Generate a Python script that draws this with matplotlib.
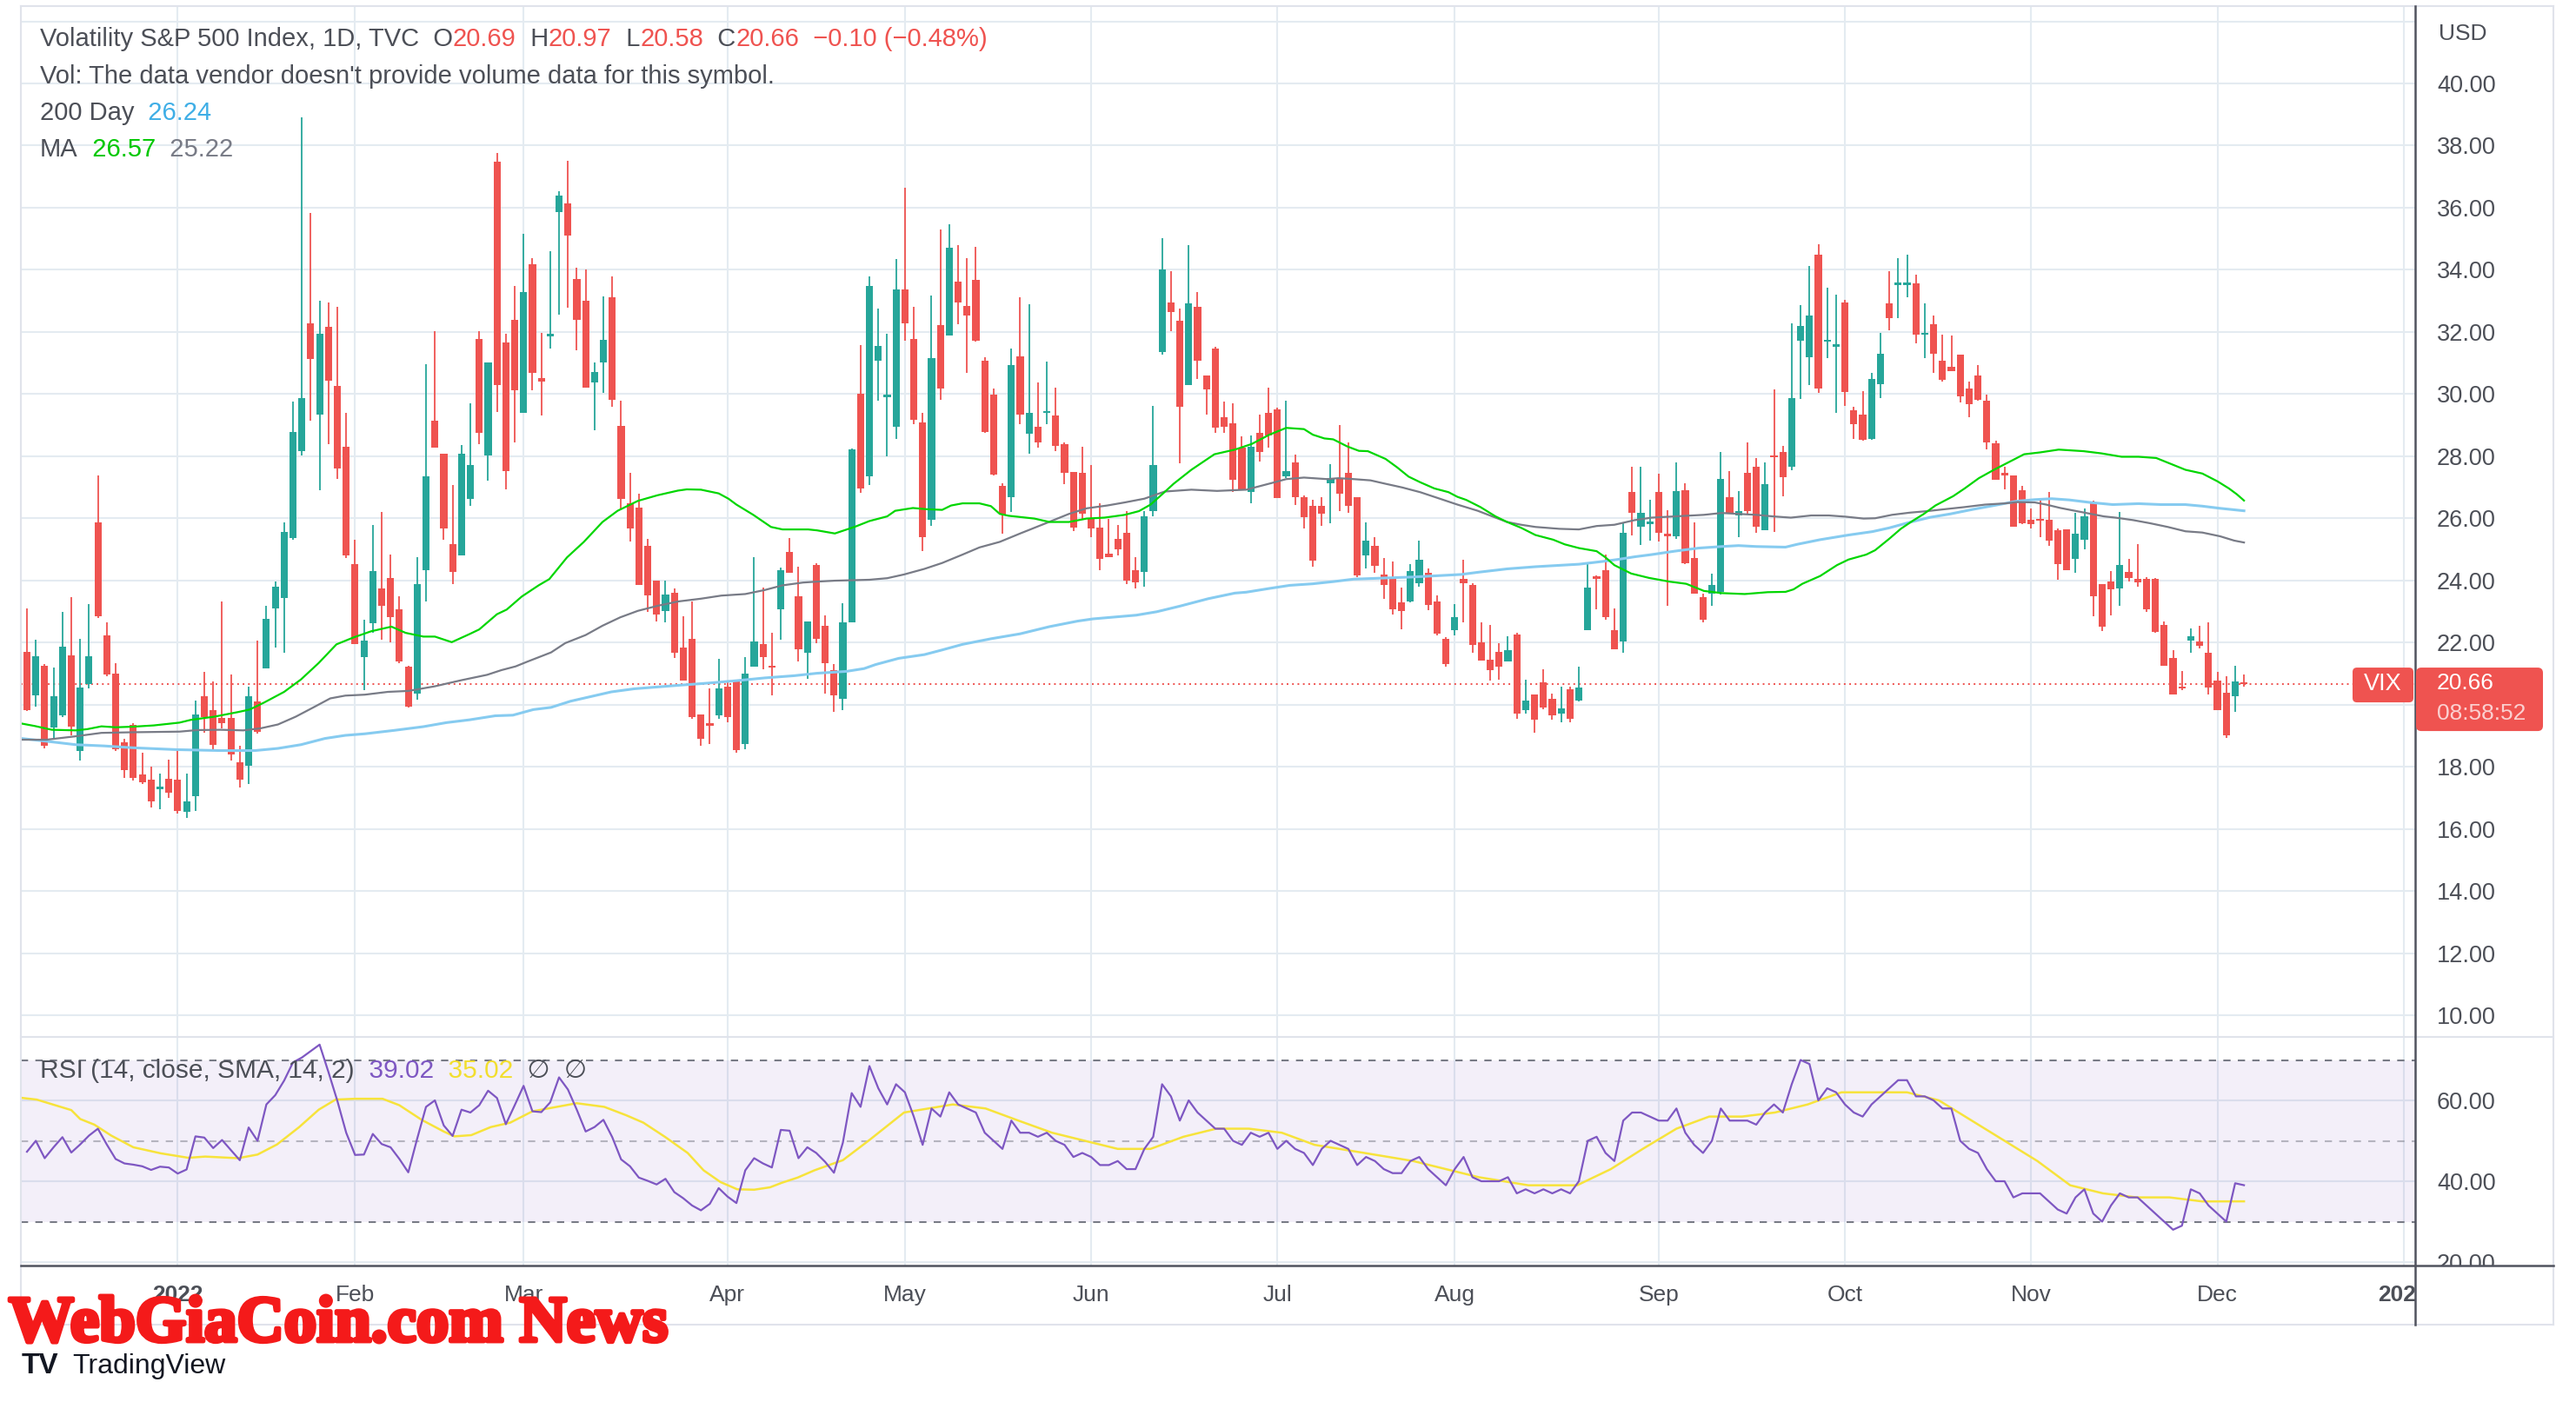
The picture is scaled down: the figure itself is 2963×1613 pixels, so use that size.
import numpy as np
import matplotlib.pyplot as plt
import matplotlib.patheffects as pe
from matplotlib.patches import Rectangle, FancyBboxPatch
from matplotlib.lines import Line2D
from matplotlib.transforms import IdentityTransform

plt.rcParams['font.family'] = ['Liberation Sans', 'DejaVu Sans']

W, H = 2963, 1613

# daily candles, 8 Dec 2021 .. 6 Dec 2022
opens = [21.71, 20.29, 21.26, 19.25, 19.66, 21.59, 18.52, 20.66, 25.87, 22.24,
         21.00, 18.79, 19.35, 17.74, 17.59, 17.28, 17.62, 17.59, 16.54, 17.04,
         20.26, 19.81, 19.57, 19.58, 18.15, 18.04, 20.11, 21.16, 23.09, 23.44,
         25.36, 28.16, 32.28, 29.33, 32.16, 30.26, 28.31, 24.53, 21.52, 22.61,
         23.74, 24.07, 23.06, 21.23, 20.36, 24.34, 29.13, 28.09, 25.16, 24.79,
         26.63, 31.76, 28.01, 37.49, 31.65, 32.40, 29.40, 34.19, 30.50, 31.85,
         35.85, 36.15, 33.71, 32.99, 30.38, 31.01, 33.11, 28.98, 26.47, 26.33,
         25.12, 23.99, 23.02, 23.59, 21.83, 22.12, 19.69, 19.39, 19.66, 20.59,
         20.74, 18.74, 21.23, 21.94, 21.24, 23.06, 24.91, 23.48, 21.68, 24.49,
         22.54, 21.11, 20.18, 22.64, 30.00, 27.34, 31.08, 29.90, 28.94, 33.36,
         31.76, 29.09, 25.94, 32.21, 31.88, 33.63, 32.84, 33.68, 31.08, 29.99,
         27.04, 26.69, 31.20, 28.73, 28.94, 29.38, 29.31, 28.38, 27.49, 27.46,
         26.02, 25.69, 24.86, 25.34, 25.54, 24.34, 24.26, 26.24, 31.34, 32.96,
         32.36, 30.30, 32.81, 30.60, 31.46, 29.26, 29.06, 28.26, 26.86, 28.76,
         29.39, 29.51, 27.34, 27.81, 26.69, 26.41, 26.41, 27.14, 27.29, 27.46,
         26.69, 24.79, 25.12, 24.19, 24.04, 23.29, 23.32, 23.92, 24.23, 23.32,
         22.12, 22.39, 24.04, 23.86, 22.01, 21.44, 21.71, 21.38, 22.27, 19.81,
         20.32, 20.71, 20.18, 19.72, 20.48, 20.14, 22.39, 24.11, 24.34, 22.39,
         22.04, 26.84, 25.73, 25.82, 26.84, 25.45, 25.43, 26.91, 24.71, 23.47,
         23.56, 23.63, 26.69, 26.09, 27.46, 27.67, 25.61, 28.03, 28.13, 27.67,
         31.71, 31.19, 34.49, 31.68, 31.53, 32.96, 29.48, 29.33, 28.56, 30.33,
         32.91, 33.52, 33.51, 33.56, 31.91, 32.24, 31.06, 30.89, 31.26, 30.18,
         30.60, 29.78, 28.41, 27.46, 27.38, 26.89, 25.94, 25.96, 25.96, 25.61,
         25.64, 24.68, 25.31, 26.51, 23.89, 23.96, 23.74, 24.26, 24.04, 24.04,
         24.04, 22.57, 21.49, 20.59, 22.06, 22.04, 21.67, 20.78, 20.39, 20.26,
         20.69]
highs = [23.10, 22.09, 21.30, 21.19, 22.99, 23.47, 22.12, 23.24, 27.38, 22.64,
         21.34, 18.90, 19.40, 18.44, 17.99, 17.79, 18.24, 18.53, 17.79, 20.14,
         21.04, 20.74, 23.32, 20.96, 18.67, 20.59, 22.06, 23.18, 23.96, 25.87,
         29.76, 38.91, 35.84, 32.99, 32.96, 32.81, 29.39, 25.31, 22.72, 25.79,
         26.21, 24.82, 23.48, 21.26, 24.76, 30.96, 32.03, 28.09, 27.07, 28.36,
         29.70, 32.03, 31.01, 37.76, 31.95, 33.48, 35.16, 34.38, 31.98, 34.60,
         36.53, 37.50, 34.08, 34.01, 31.01, 33.14, 33.78, 29.78, 27.46, 26.78,
         25.34, 23.99, 24.00, 23.74, 22.84, 23.32, 19.69, 20.51, 21.46, 20.78,
         20.74, 21.53, 24.74, 23.78, 22.31, 24.41, 25.36, 24.44, 22.69, 24.56,
         22.88, 21.31, 23.26, 28.24, 31.58, 33.78, 32.76, 31.95, 34.34, 36.63,
         32.81, 29.39, 33.18, 35.31, 35.46, 34.80, 34.38, 34.73, 31.19, 30.18,
         27.14, 31.46, 33.11, 32.88, 30.38, 31.04, 30.21, 28.43, 27.49, 28.31,
         27.71, 26.47, 25.99, 25.79, 26.24, 24.74, 26.24, 29.61, 35.01, 33.96,
         32.76, 34.80, 33.29, 30.60, 31.53, 29.76, 29.69, 28.64, 28.66, 29.33,
         30.21, 29.55, 29.78, 28.06, 26.74, 26.59, 26.69, 27.74, 29.01, 28.43,
         26.69, 25.88, 25.39, 24.71, 24.61, 23.78, 24.53, 25.28, 24.38, 23.51,
         22.16, 23.24, 24.67, 23.92, 22.66, 22.57, 21.97, 22.21, 22.31, 20.81,
         20.32, 21.14, 20.36, 20.59, 20.59, 21.23, 24.59, 24.16, 24.82, 23.09,
         25.84, 27.66, 27.66, 26.59, 27.44, 26.26, 27.79, 27.14, 25.87, 23.56,
         24.22, 28.13, 27.53, 26.88, 28.43, 27.94, 27.79, 30.14, 28.34, 32.28,
         32.85, 34.11, 34.83, 33.41, 33.21, 33.03, 29.58, 30.08, 30.68, 31.98,
         33.96, 34.38, 34.50, 33.83, 32.93, 32.54, 31.91, 31.88, 31.28, 30.41,
         30.93, 29.99, 28.51, 27.66, 27.38, 27.04, 26.31, 26.59, 26.86, 25.66,
         25.64, 26.17, 26.31, 26.56, 23.89, 24.31, 26.21, 24.68, 25.16, 24.11,
         24.07, 22.69, 21.76, 21.08, 22.46, 22.54, 22.64, 21.04, 20.92, 21.26,
         20.97]
lows = [19.80, 19.94, 18.60, 18.94, 19.60, 19.00, 18.19, 20.51, 22.80, 20.90,
        18.50, 17.64, 17.55, 17.45, 16.69, 16.62, 16.99, 16.50, 16.35, 16.57,
        19.09, 18.57, 19.24, 18.19, 17.34, 17.44, 19.06, 21.16, 21.83, 21.68,
        25.31, 28.01, 29.13, 26.89, 28.39, 27.26, 24.71, 21.94, 20.47, 22.31,
        22.09, 22.01, 21.34, 19.92, 20.17, 23.33, 28.28, 25.31, 23.89, 24.79,
        26.41, 28.39, 27.21, 29.43, 26.92, 28.43, 29.40, 30.11, 29.31, 31.46,
        32.55, 32.78, 31.41, 30.21, 28.84, 30.03, 29.58, 26.29, 25.24, 23.86,
        22.99, 22.69, 22.66, 21.49, 20.78, 19.54, 18.67, 18.72, 19.54, 19.44,
        18.46, 18.57, 21.23, 21.14, 20.29, 22.09, 24.23, 21.38, 20.84, 21.98,
        20.36, 19.77, 19.81, 22.64, 26.81, 27.07, 29.78, 27.98, 28.54, 31.71,
        29.03, 24.94, 25.76, 29.81, 31.88, 32.24, 30.68, 31.68, 28.76, 27.37,
        25.49, 26.21, 29.03, 28.09, 28.28, 29.03, 28.16, 27.11, 25.58, 25.96,
        25.39, 24.34, 24.74, 24.81, 23.89, 23.74, 23.81, 26.06, 31.28, 32.03,
        27.76, 30.30, 30.48, 29.33, 28.76, 28.76, 26.86, 26.91, 26.47, 27.83,
        28.26, 26.66, 27.29, 26.44, 25.66, 24.44, 25.76, 25.84, 26.24, 26.18,
        24.11, 24.37, 24.23, 23.41, 22.91, 22.43, 23.29, 23.81, 23.03, 22.24,
        21.22, 22.24, 22.66, 21.68, 21.41, 20.77, 20.81, 21.38, 19.54, 19.72,
        19.09, 19.84, 19.51, 19.42, 19.42, 20.09, 22.39, 23.06, 22.72, 21.79,
        21.67, 25.46, 25.13, 25.28, 25.24, 23.18, 25.34, 24.53, 23.56, 22.64,
        23.17, 23.54, 26.14, 25.39, 26.14, 25.54, 25.61, 25.57, 26.71, 27.56,
        29.84, 30.29, 30.03, 31.16, 29.39, 29.63, 28.56, 28.51, 28.53, 29.88,
        32.06, 32.43, 33.11, 31.64, 31.16, 30.68, 30.41, 30.74, 29.73, 29.24,
        29.78, 28.21, 27.23, 26.93, 25.73, 25.81, 25.66, 25.39, 25.12, 24.01,
        24.34, 24.23, 25.01, 22.84, 22.36, 22.88, 23.17, 23.96, 23.81, 22.99,
        22.31, 21.26, 20.33, 20.47, 21.67, 21.82, 20.32, 19.81, 18.94, 19.76,
        20.58]
closes = [19.83, 21.56, 18.67, 20.26, 21.86, 19.29, 20.54, 21.56, 22.84, 20.96,
          18.57, 17.89, 17.64, 17.49, 16.89, 17.32, 17.17, 16.57, 16.89, 19.69,
          19.59, 18.69, 19.39, 18.39, 17.59, 20.26, 19.12, 22.76, 23.81, 25.57,
          28.79, 29.86, 31.13, 31.94, 30.44, 27.61, 24.79, 21.94, 22.06, 24.31,
          23.17, 22.81, 21.38, 19.94, 23.89, 27.34, 28.28, 25.66, 24.26, 28.09,
          27.71, 28.76, 31.01, 30.29, 27.53, 30.11, 33.29, 30.68, 30.40, 31.95,
          36.40, 35.09, 32.40, 30.21, 30.71, 31.73, 29.81, 26.62, 25.66, 23.86,
          23.51, 22.91, 23.54, 21.67, 20.78, 19.59, 18.89, 19.33, 20.51, 19.59,
          18.54, 21.01, 22.04, 21.52, 21.18, 24.34, 24.23, 21.79, 22.69, 22.13,
          21.34, 20.29, 22.64, 28.21, 26.96, 33.48, 31.56, 29.98, 33.36, 32.28,
          29.18, 25.39, 31.16, 30.18, 34.71, 32.96, 32.54, 31.71, 28.79, 27.41,
          26.11, 30.93, 29.33, 29.39, 28.43, 29.43, 28.34, 27.46, 25.69, 26.14,
          25.66, 24.68, 24.76, 25.00, 23.99, 23.93, 26.06, 27.71, 34.01, 32.63,
          29.58, 32.91, 31.08, 30.15, 28.91, 28.94, 27.23, 26.91, 28.31, 28.12,
          28.66, 26.66, 27.52, 26.69, 26.03, 24.64, 26.14, 27.29, 26.78, 26.41,
          24.16, 25.28, 24.46, 23.86, 23.06, 23.02, 24.29, 24.67, 23.21, 22.28,
          21.31, 22.81, 23.92, 21.91, 21.41, 21.11, 21.23, 21.76, 19.72, 20.14,
          19.51, 19.92, 19.66, 19.87, 19.54, 20.56, 23.78, 24.06, 22.81, 21.79,
          25.54, 26.18, 26.18, 25.86, 25.54, 25.42, 26.88, 24.56, 23.56, 22.73,
          23.84, 27.26, 26.14, 26.24, 26.24, 25.73, 27.11, 27.96, 27.31, 29.88,
          32.18, 32.54, 30.18, 31.73, 31.58, 30.06, 29.03, 28.53, 30.48, 31.31,
          32.43, 33.56, 33.53, 31.91, 31.95, 31.31, 30.46, 30.74, 29.93, 29.66,
          29.81, 28.43, 27.23, 27.38, 25.73, 25.84, 25.81, 25.91, 25.27, 24.53,
          24.34, 25.51, 26.06, 23.48, 22.51, 23.71, 24.49, 24.07, 23.93, 23.06,
          22.34, 21.26, 20.33, 20.51, 22.21, 21.89, 20.56, 19.81, 19.01, 20.74,
          20.66]

# moving averages, sampled along the lines (bar index, value)
ma_fast_idx = [-0.6, 0.9, 2.8, 5.5, 6.8, 8.4, 10.0, 12.0, 14.3, 17.2, 18.5, 21.1, 23.8, 25.1, 26.7,
               29.0, 30.9, 32.9, 34.9, 36.8, 38.8, 41.1, 42.7, 44.7, 46.0, 47.9, 49.9, 51.0, 53.0,
               54.1, 55.8, 57.7, 58.9, 60.9, 62.8, 64.9, 66.6, 68.9, 71.1, 73.4, 74.4, 76.0, 78.0,
               79.1, 80.0, 81.9, 83.9, 85.2, 88.1, 89.1, 91.1, 93.4, 95.0, 97.0, 97.9, 99.9, 101.5,
               103.2, 104.2, 105.5, 107.4, 108.7, 109.7, 110.7, 113.6, 115.3, 117.5, 119.5, 121.5,
               123.8, 125.4, 126.7, 128.0, 129.3, 131.3, 133.9, 136.2, 138.1, 140.1, 142.0, 144.0,
               145.0, 146.3, 147.3, 148.9, 150.2, 151.2, 153.2, 154.5, 155.8, 157.1, 158.7, 160.3,
               161.3, 162.3, 163.9, 165.6, 166.9, 168.5, 170.1, 172.1, 173.4, 175.0, 177.0, 178.0,
               179.0, 180.9, 182.9, 185.2, 187.1, 189.1, 191.1, 193.7, 196.3, 198.3, 199.2, 200.2,
               202.2, 204.1, 205.4, 207.4, 208.4, 210.0, 211.3, 212.6, 213.9, 215.2, 217.2, 218.5,
               220.1, 221.8, 224.4, 225.2, 227.0, 229.1, 231.9, 233.9, 236.2, 238.1, 240.1, 241.4,
               243.4, 245.3, 247.0, 248.3, 249.2, 250.0]
ma_fast_val = [19.39, 19.31, 19.19, 19.17, 19.21, 19.30, 19.27, 19.29, 19.33, 19.42, 19.51, 19.61,
               19.76, 19.84, 20.06, 20.41, 20.81, 21.34, 21.94, 22.16, 22.36, 22.51, 22.31, 22.19,
               22.19, 22.01, 22.27, 22.42, 22.91, 23.06, 23.48, 23.84, 24.04, 24.74, 25.24, 25.88,
               26.24, 26.56, 26.74, 26.89, 26.93, 26.92, 26.80, 26.63, 26.44, 26.11, 25.72, 25.64,
               25.64, 25.61, 25.51, 25.73, 25.91, 26.06, 26.24, 26.33, 26.29, 26.27, 26.41, 26.48,
               26.48, 26.39, 26.14, 26.08, 25.99, 25.88, 25.88, 25.99, 26.02, 26.11, 26.23, 26.44,
               26.77, 27.11, 27.56, 28.06, 28.21, 28.39, 28.69, 28.91, 28.87, 28.69, 28.57, 28.54,
               28.31, 28.17, 28.16, 27.91, 27.64, 27.34, 27.16, 26.96, 26.84, 26.69, 26.59, 26.36,
               26.06, 25.88, 25.69, 25.46, 25.31, 25.16, 25.04, 24.94, 24.74, 24.49, 24.22, 24.08,
               23.96, 23.89, 23.66, 23.59, 23.56, 23.62, 23.63, 23.71, 23.89, 24.14, 24.49, 24.67,
               24.83, 24.97, 25.34, 25.66, 25.91, 26.14, 26.41, 26.71, 26.96, 27.29, 27.56, 27.94,
               28.06, 28.12, 28.21, 28.16, 28.09, 27.98, 27.98, 27.94, 27.79, 27.56, 27.44, 27.19,
               26.96, 26.77, 26.57]
ma_slow_idx = [-0.6, 2.2, 5.5, 8.4, 12.0, 17.2, 19.2, 21.8, 24.4, 26.4, 28.3, 30.3, 32.3, 34.2, 35.9,
               38.1, 40.7, 43.0, 46.0, 48.9, 51.9, 53.5, 55.1, 56.4, 59.1, 60.7, 63.0, 64.9, 66.9,
               68.9, 71.1, 73.4, 76.0, 78.3, 81.0, 83.2, 85.2, 87.5, 89.1, 91.1, 95.0, 97.0, 98.9,
               101.2, 103.2, 105.5, 107.4, 109.7, 112.0, 114.9, 117.5, 119.5, 121.8, 123.8, 126.0,
               128.3, 131.3, 134.2, 137.5, 139.1, 140.7, 142.0, 144.0, 146.6, 147.9, 149.6, 151.5,
               153.2, 155.1, 157.1, 159.0, 161.3, 163.6, 165.6, 166.9, 168.5, 170.1, 172.8, 175.0,
               177.0, 179.0, 181.3, 183.2, 185.8, 189.1, 191.1, 193.0, 195.0, 196.9, 198.9, 201.2,
               203.2, 205.1, 207.1, 208.4, 210.3, 212.3, 214.3, 216.2, 218.5, 220.8, 223.1, 224.4,
               226.4, 227.7, 229.3, 232.2, 234.2, 235.5, 237.5, 239.4, 241.4, 243.4, 245.3, 247.3,
               248.9, 250.0]
ma_slow_val = [18.87, 18.87, 18.98, 19.09, 19.11, 19.13, 19.18, 19.19, 19.17, 19.24, 19.36, 19.61,
               19.91, 20.20, 20.29, 20.32, 20.41, 20.44, 20.59, 20.78, 20.96, 21.11, 21.23, 21.38,
               21.68, 21.98, 22.24, 22.54, 22.81, 23.02, 23.18, 23.32, 23.41, 23.51, 23.56, 23.69,
               23.84, 23.93, 23.96, 23.99, 24.02, 24.07, 24.19, 24.37, 24.56, 24.83, 25.06, 25.24,
               25.51, 25.84, 26.14, 26.32, 26.41, 26.51, 26.63, 26.86, 26.92, 26.88, 26.92, 27.04,
               27.16, 27.26, 27.31, 27.26, 27.29, 27.26, 27.22, 27.11, 26.99, 26.84, 26.66, 26.44,
               26.24, 26.02, 25.88, 25.79, 25.72, 25.66, 25.64, 25.75, 25.79, 25.94, 26.02, 26.06,
               26.11, 26.17, 26.14, 26.11, 26.06, 26.02, 26.09, 26.09, 26.05, 25.99, 26.00, 26.11,
               26.18, 26.23, 26.29, 26.36, 26.44, 26.48, 26.52, 26.51, 26.44, 26.33, 26.17, 26.06,
               26.02, 25.94, 25.84, 25.72, 25.58, 25.54, 25.42, 25.28, 25.22]
ma200_idx = [-0.6, 2.2, 5.5, 8.7, 12.0, 16.9, 21.8, 25.7, 28.3, 30.9, 33.6, 35.9, 38.1, 41.4, 44.7,
             47.3, 49.9, 52.8, 54.8, 57.1, 59.1, 61.3, 63.6, 65.9, 68.5, 73.4, 76.7, 80.0, 83.2,
             86.5, 89.1, 92.4, 94.4, 95.7, 98.3, 101.2, 103.2, 105.5, 108.7, 112.0, 115.3, 118.5,
             120.2, 125.1, 127.4, 130.0, 133.2, 136.2, 137.5, 140.1, 142.4, 145.0, 147.3, 149.6,
             152.5, 156.4, 159.7, 161.7, 163.6, 166.9, 170.1, 175.0, 177.7, 179.3, 181.3, 183.2,
             185.8, 188.5, 191.1, 193.0, 195.0, 198.3, 199.6, 202.2, 205.4, 208.1, 210.0, 212.3,
             214.6, 216.9, 219.5, 221.8, 224.4, 226.4, 228.3, 230.3, 232.6, 235.2, 238.1, 240.7,
             243.4, 245.3, 247.3, 250.0]
ma200_val = [18.91, 18.82, 18.71, 18.67, 18.61, 18.55, 18.52, 18.52, 18.59, 18.71, 18.91, 19.01,
             19.06, 19.17, 19.29, 19.42, 19.51, 19.64, 19.66, 19.84, 19.91, 20.11, 20.26, 20.41,
             20.51, 20.62, 20.69, 20.77, 20.86, 20.93, 21.01, 21.07, 21.16, 21.29, 21.49, 21.61,
             21.76, 21.94, 22.12, 22.28, 22.51, 22.69, 22.76, 22.88, 22.99, 23.17, 23.41, 23.59,
             23.62, 23.74, 23.84, 23.89, 23.96, 24.04, 24.07, 24.11, 24.16, 24.19, 24.26, 24.37,
             24.44, 24.52, 24.61, 24.67, 24.76, 24.83, 24.94, 25.04, 25.09, 25.12, 25.09, 25.07,
             25.16, 25.31, 25.46, 25.57, 25.69, 25.87, 26.03, 26.14, 26.29, 26.41, 26.55, 26.60,
             26.63, 26.59, 26.51, 26.44, 26.47, 26.44, 26.44, 26.39, 26.32, 26.24]

# RSI(14) per bar and its SMA(14) sampled along the line
rsi = [47.3, 50.0, 45.7, 48.4, 50.9, 47.1, 49.1, 51.3, 53.0, 49.1,
       45.5, 44.4, 44.1, 43.7, 42.8, 43.6, 43.4, 41.9, 42.9, 51.1,
       50.8, 48.2, 50.2, 47.7, 45.2, 53.3, 50.0, 59.0, 61.3, 64.9,
       69.4, 70.6, 72.2, 73.8, 67.0, 59.9, 52.0, 46.5, 46.6, 51.7,
       49.2, 48.4, 45.5, 42.2, 50.5, 58.4, 60.0, 53.8, 51.2, 57.7,
       57.0, 58.8, 62.4, 60.6, 54.1, 58.8, 63.6, 57.3, 57.1, 59.5,
       65.7, 62.7, 57.7, 52.3, 53.4, 55.2, 50.9, 45.4, 43.7, 40.9,
       40.1, 39.2, 40.6, 37.3, 35.8, 34.0, 32.8, 34.4, 38.3, 36.2,
       34.6, 42.7, 45.7, 44.4, 43.4, 52.7, 52.5, 45.7, 48.4, 47.0,
       44.8, 42.1, 49.5, 61.8, 58.4, 68.5, 63.0, 59.0, 64.0, 62.0,
       56.0, 49.0, 58.0, 56.0, 62.0, 59.0, 58.0, 57.0, 52.0, 50.0,
       48.0, 55.0, 52.0, 52.0, 51.0, 52.0, 50.0, 49.0, 46.0, 47.0,
       46.0, 44.0, 44.0, 45.0, 43.0, 43.0, 48.0, 51.0, 64.0, 61.0,
       55.0, 60.0, 57.0, 55.0, 53.0, 53.0, 50.0, 49.0, 52.0, 51.0,
       52.0, 48.0, 50.0, 48.0, 47.0, 44.0, 48.0, 50.0, 49.0, 48.0,
       44.0, 46.0, 45.0, 43.0, 42.0, 42.0, 45.0, 46.0, 43.0, 41.0,
       39.0, 43.0, 46.0, 41.0, 40.0, 40.0, 40.0, 41.0, 37.0, 38.0,
       37.0, 38.0, 37.0, 38.0, 37.0, 40.0, 50.0, 51.0, 47.0, 45.0,
       55.0, 57.0, 57.0, 56.0, 55.0, 55.0, 58.0, 52.0, 49.0, 47.0,
       50.0, 58.0, 55.0, 55.0, 55.0, 54.0, 57.0, 59.0, 57.0, 64.0,
       70.0, 69.0, 60.0, 63.0, 62.0, 59.0, 57.0, 56.0, 59.0, 61.0,
       63.0, 65.0, 65.0, 61.0, 61.0, 60.0, 58.0, 58.0, 50.0, 48.0,
       47.0, 43.0, 40.0, 40.0, 36.0, 37.0, 37.0, 37.0, 35.0, 33.0,
       32.0, 36.0, 38.0, 32.0, 30.0, 34.0, 37.0, 36.0, 36.0, 34.0,
       32.0, 30.0, 28.0, 29.0, 38.0, 37.0, 34.0, 32.0, 30.0, 39.5,
       39.02]
rsi_ma_idx = [-0.5, 1.1, 3.2, 5.0, 6.0, 7.6, 9.5, 12.0, 15.1, 18.2, 20.1, 23.8, 26.0, 28.2, 30.7,
              32.9, 34.8, 37.0, 40.1, 42.0, 44.5, 47.0, 48.2, 50.1, 52.3, 54.5, 57.0, 59.5, 62.0,
              65.1, 67.6, 69.5, 72.0, 74.5, 76.3, 78.2, 80.1, 82.0, 83.8, 85.1, 86.9, 88.8, 90.7,
              92.0, 95.0, 98.9, 104.4, 108.1, 111.8, 115.6, 119.3, 123.0, 126.7, 130.4, 134.1,
              137.8, 141.5, 145.2, 150.8, 156.3, 160.0, 163.7, 169.3, 174.8, 178.6, 182.2, 186.0,
              189.7, 193.4, 197.1, 200.8, 204.6, 208.2, 212.0, 215.6, 219.3, 223.0, 226.7, 230.4,
              234.1, 237.9, 241.6, 245.3, 250.0]
rsi_ma_val = [60.6, 60.2, 58.8, 57.6, 55.4, 54.0, 51.3, 48.4, 46.9, 45.8, 46.1, 45.7, 46.6, 49.1,
              53.4, 57.7, 60.2, 60.4, 60.4, 58.8, 55.2, 52.3, 51.1, 51.4, 53.4, 54.5, 57.3, 58.3,
              59.3, 58.4, 56.3, 54.5, 50.9, 47.0, 42.7, 39.8, 38.0, 37.9, 38.5, 39.6, 40.9, 42.7,
              44.2, 45.2, 50.2, 57.0, 59.0, 58.0, 55.0, 52.0, 50.0, 48.0, 48.0, 51.0, 53.0, 53.0,
              52.0, 49.0, 47.0, 45.0, 43.0, 41.0, 39.0, 39.0, 43.0, 48.0, 53.0, 56.0, 56.0, 57.0,
              59.0, 62.0, 62.0, 62.0, 60.0, 55.0, 50.0, 45.0, 39.0, 37.0, 36.0, 36.0, 35.0, 35.02]

month_idx = [17, 37, 56, 79, 99, 120, 141, 161, 184, 205, 226, 247, 268]
month_lbl = ['2022', 'Feb', 'Mar', 'Apr', 'May', 'Jun', 'Jul', 'Aug', 'Sep', 'Oct', 'Nov', 'Dec', '2023']

RED, GREEN = '#EF5350', '#26A69A'
TXT = '#4C4F57'
GRID = '#E4EBF1'
BORDER = '#E0E3EB'
AXIS = '#50535E'

fig = plt.figure(figsize=(W / 100, H / 100), dpi=100)
fig.patch.set_facecolor('white')


def box(x0, y0, x1, y1):
    return [x0 / W, 1 - y1 / H, (x1 - x0) / W, (y1 - y0) / H]


ax = fig.add_axes(box(24, 7, 2778, 1193))
rx = fig.add_axes(box(24, 1193, 2778, 1456), sharex=ax)

# candles
x = np.arange(len(closes))
o, h, l, c = (np.array(v) for v in (opens, highs, lows, closes))
col = np.where(c >= o, GREEN, RED)
ax.vlines(x, l, h, colors=col, lw=1.3, zorder=3)
ax.bar(x, np.maximum(np.abs(c - o), 0.07), bottom=np.minimum(o, c), width=0.8,
       color=col, lw=0, zorder=3)

ax.plot(ma200_idx, ma200_val, color='#86CBF0', lw=2.2, zorder=4)
ax.plot(ma_slow_idx, ma_slow_val, color='#787B86', lw=1.6, zorder=4)
ax.plot(ma_fast_idx, ma_fast_val, color='#00D600', lw=1.6, zorder=4)
ax.axhline(closes[-1], color=RED, lw=1.4, ls=(0, (1, 2.2)), zorder=2)

ax.set_xlim(-0.686, 269.3)
ax.set_ylim(9.30, 42.49)
yt = np.arange(10, 43, 2)
ax.yaxis.tick_right()
ax.set_yticks(yt)
ax.set_yticklabels([f'{v:.2f}' if v <= 40 else '' for v in yt])
ax.tick_params(axis='y', length=0, pad=18, labelsize=19.5, labelcolor=TXT)
ax.tick_params(axis='x', length=0, labelbottom=False)

# RSI pane
rx.axhspan(30, 70, color='#7E57C2', alpha=0.09, lw=0)
for lv, a in ((70, 1.0), (50, 0.5), (30, 1.0)):
    rx.axhline(lv, color='#787B86', alpha=a, lw=1.5, ls=(0, (4, 4)))
rx.plot(x, rsi, color='#7E57C2', lw=1.6, zorder=4)
rx.plot(rsi_ma_idx, rsi_ma_val, color='#F7E33B', lw=1.8, zorder=3)
rx.set_ylim(19.14, 75.7)
rx.yaxis.tick_right()
rx.set_yticks([20, 40, 60])
rx.set_yticklabels(['20.00', '40.00', '60.00'])
rx.tick_params(axis='y', length=0, pad=18, labelsize=19.5, labelcolor=TXT)
rx.set_xticks(month_idx)
rx.set_xticklabels(month_lbl)
rx.tick_params(axis='x', length=0, pad=16, labelsize=19, labelcolor=TXT)
for t in rx.get_xticklabels():
    if t.get_text().isdigit():
        t.set_fontweight('bold')

for a in (ax, rx):
    a.set_facecolor('white')
    a.grid(True, color=GRID, lw=1.5)
    a.set_axisbelow(True)
    for s in a.spines.values():
        s.set_visible(False)

# frame lines and axis column
fig.add_artist(Rectangle((2779 / W, 1 - 1524 / H), 158 / W, 67 / H, transform=fig.transFigure,
                         fc='white', ec='none', zorder=5))


def line(xs, ys, color, lw):
    fig.add_artist(Line2D([v / W for v in xs], [1 - v / H for v in ys], color=color, lw=lw, zorder=6))


line([24, 2937], [7, 7], BORDER, 1.5)
line([24, 2937], [1524, 1524], BORDER, 1.5)
line([24, 24], [7, 1524], BORDER, 1.5)
line([2937, 2937], [7, 1524], BORDER, 1.5)
line([24, 2937], [1193, 1193], BORDER, 1.5)
line([24, 2937], [1456, 1456], AXIS, 1.8)
line([2778, 2778], [7, 1524], AXIS, 1.8)

ID = IdentityTransform()
fig.text(2805, H - 39, 'USD', transform=ID, fontsize=19, color=TXT, va='center', ha='left')

# last price labels
fig.canvas.draw()
yp = ax.transData.transform((0, closes[-1]))[1]
fig.add_artist(FancyBboxPatch((2779, yp - 54), 146, 73, boxstyle='round,pad=0,rounding_size=6',
                              transform=ID, fc=RED, ec='none', zorder=7))
fig.add_artist(FancyBboxPatch((2706, yp - 21), 70, 40, boxstyle='round,pad=0,rounding_size=5',
                              transform=ID, fc=RED, ec='none', zorder=7))
fig.text(2803, yp + 1, f'{closes[-1]:.2f}', transform=ID, fontsize=19, color='white',
         va='center', ha='left', zorder=8)
fig.text(2803, yp - 34, '08:58:52', transform=ID, fontsize=19, color='#FBD0D0',
         va='center', ha='left', zorder=8)
fig.text(2741, yp, 'VIX', transform=ID, fontsize=19.5, color='white',
         va='center', ha='center', zorder=8)


def chain(x0, y0, parts, size=21):
    r = fig.canvas.get_renderer()
    for s, colr in parts:
        t = fig.text(x0, H - y0, s, transform=ID, fontsize=size, color=colr,
                     va='center', ha='left', zorder=8)
        x0 = t.get_window_extent(r).x1


chain(46, 45, [('Volatility S&P 500 Index, 1D, TVC  O', TXT), ('20.69', RED), ('  H', TXT),
               ('20.97', RED), ('  L', TXT), ('20.58', RED), ('  C', TXT), ('20.66', RED),
               ('  \u22120.10 (\u22120.48%)', RED)])
chain(46, 88, [("Vol: The data vendor doesn't provide volume data for this symbol.", TXT)])
chain(46, 130, [('200 Day', TXT), ('  26.24', '#3FAEE6')])
chain(46, 172, [('MA', TXT), ('  26.57', '#00C800'), ('  25.22', '#787B86')])
chain(46, 1232, [('RSI (14, close, SMA, 14, 2)', TXT), ('  39.02', '#7E57C2'),
                 ('  35.02', '#F2DE2E'), ('  \u2205  \u2205', TXT)], size=21.5)

# watermark and logo
fig.text(10, H - 1543, 'WebGiaCoin.com News', transform=ID, fontsize=54, family='Liberation Serif',
         weight='bold', color='#F41A1A', va='baseline', ha='left', zorder=9,
         path_effects=[pe.withStroke(linewidth=3.5, foreground='#F41A1A')])
fig.text(25, H - 1580, 'TV', transform=ID, fontsize=24, weight='bold', color='#131722',
         va='baseline', ha='left', zorder=9)
fig.text(83, H - 1580, 'TradingView', transform=ID, fontsize=23, color='#131722',
         va='baseline', ha='left', zorder=9)

fig.savefig('out.png', dpi=100, facecolor='white')
